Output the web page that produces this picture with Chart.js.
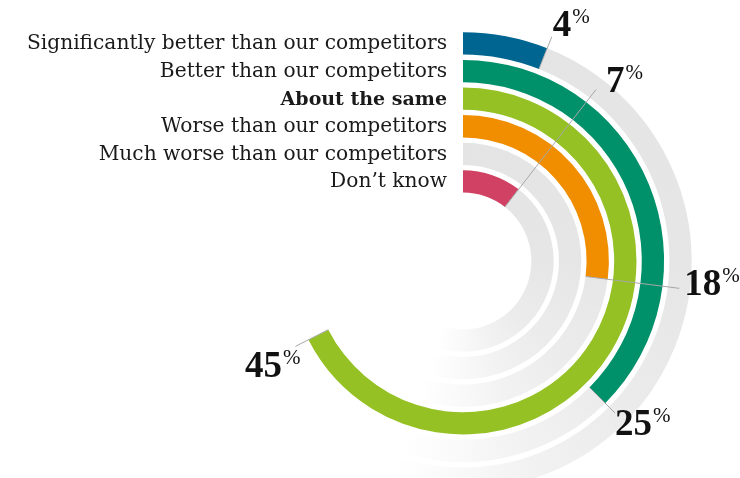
<!DOCTYPE html>
<html>
<head>
<meta charset="utf-8">
<script src="https://cdn.jsdelivr.net/npm/chart.js@4.4.1/dist/chart.umd.min.js"></script>
<style>
  html, body { margin: 0; padding: 0; background: #fff; overflow: hidden; }
  #wrap { position: relative; width: 740px; height: 478px; }
</style>
</head>
<body>
<div id="wrap"><canvas id="rings" width="740" height="478"></canvas></div>
<script>
// Answers, outermost ring first
const categories = [
  'Significantly better than our competitors',
  'Better than our competitors',
  'About the same',
  'Worse than our competitors',
  'Much worse than our competitors',
  'Don\u2019t know'
];
const values = [4, 25, 45, 18, 0, 7];
const colors = ['#006591', '#00916a', '#95c124', '#f18e00', '#e6e6e6', '#d14163'];
const boldRow = 2;

// a full track (270 degrees) stands for 50%
const SCALE_MAX = 50;
const GAP_WEIGHT = 0.238;

// leader lines: outer radius of each line, and where the figure sits from its end
const leaderOut = [241, 215, 188, 218, null, 217];
const figureOffset = [[1, -1, 'left'], [0, 22, 'left'], [5, 31, 'right'], [5, 7, 'left'], null, [10, 2, 'left']];

const LABEL_FONT = '20.2px "DejaVu Serif", serif';
const LABEL_BOLD = 'bold 19px "DejaVu Serif", serif';
const FIG_FONT = 'bold 37px "Liberation Serif", serif';
const PCT_FONT = '21px "Liberation Serif", serif';

let trackGradient = null;
let trackKey = '';
function trackFill(chart) {
  const a = chart.chartArea;
  if (!a) return '#e6e6e6';
  const cx = (a.left + a.right) / 2, cy = (a.top + a.bottom) / 2;
  const key = cx + ',' + cy;
  if (trackKey !== key) {
    // tracks fade out towards the lower left
    const g = chart.ctx.createConicGradient(-Math.PI / 2, cx, cy);
    g.addColorStop(0, '#e4e4e4');
    g.addColorStop(0.25, '#e6e6e6');
    g.addColorStop(0.38, '#ececec');
    g.addColorStop(0.45, '#f2f2f2');
    g.addColorStop(0.50, '#f9f9f9');
    g.addColorStop(0.55, '#ffffff');
    g.addColorStop(1, '#ffffff');
    trackGradient = g;
    trackKey = key;
  }
  return trackGradient;
}

// one ring per answer, with a transparent ring between them for the gap
const datasets = [];
const ringIndex = [];
categories.forEach((cat, i) => {
  ringIndex.push(datasets.length);
  datasets.push({
    label: cat,
    data: [values[i], SCALE_MAX - values[i]],
    backgroundColor: ctx => ctx.dataIndex === 0 ? colors[i] : trackFill(ctx.chart),
    borderWidth: 0,
    weight: 1,
    clip: false
  });
  if (i < categories.length - 1) {
    datasets.push({
      label: '',
      data: [1],
      backgroundColor: 'rgba(0,0,0,0)',
      borderWidth: 0,
      weight: GAP_WEIGHT,
      clip: false
    });
  }
});

const ringLabels = {
  id: 'ringLabels',
  afterDatasetsDraw(chart) {
    const ctx = chart.ctx;
    ctx.save();
    ringIndex.forEach((dsIndex, i) => {
      const arc = chart.getDatasetMeta(dsIndex).data[0];
      const p = arc.getProps(['x', 'y', 'innerRadius', 'outerRadius', 'endAngle'], true);
      const mid = (p.innerRadius + p.outerRadius) / 2;

      // answer text, right aligned just left of where the ring starts
      ctx.fillStyle = '#1a1a1a';
      ctx.textAlign = 'right';
      ctx.textBaseline = 'alphabetic';
      ctx.font = i === boldRow ? LABEL_BOLD : LABEL_FONT;
      ctx.fillText(categories[i], p.x - 16, p.y - mid + 6);

      if (!values[i]) return;

      // leader from the end of the coloured arc
      const a = p.endAngle;
      const x0 = p.x + Math.cos(a) * p.innerRadius, y0 = p.y + Math.sin(a) * p.innerRadius;
      const x1 = p.x + Math.cos(a) * leaderOut[i], y1 = p.y + Math.sin(a) * leaderOut[i];
      ctx.strokeStyle = '#a8a8a8';
      ctx.lineWidth = 1;
      ctx.beginPath();
      ctx.moveTo(x0, y0);
      ctx.lineTo(x1, y1);
      ctx.stroke();

      // figure with a small raised percent sign
      const [dx, dy, align] = figureOffset[i];
      const num = String(values[i]);
      ctx.textAlign = 'left';
      ctx.font = FIG_FONT;
      const wNum = ctx.measureText(num).width;
      ctx.font = PCT_FONT;
      const wPct = ctx.measureText('%').width;
      let left = x1 + dx;
      if (align === 'right') left -= wNum + 1 + wPct;
      const base = y1 + dy;
      ctx.fillStyle = '#111';
      ctx.font = FIG_FONT;
      ctx.fillText(num, left, base);
      ctx.font = PCT_FONT;
      ctx.fillText('%', left + wNum + 1, base - 13);
    });
    ctx.restore();
  }
};

new Chart(document.getElementById('rings'), {
  type: 'doughnut',
  data: { labels: ['share', 'rest'], datasets: datasets },
  options: {
    responsive: false,
    animation: false,
    events: [],
    rotation: 0,
    circumference: 270,
    radius: 228.7,
    cutout: '29.9%',
    layout: { padding: { left: 234.3, right: 48.3, top: 44, bottom: 0 } },
    plugins: { legend: { display: false }, tooltip: { enabled: false } }
  },
  plugins: [ringLabels]
});
</script>
</body>
</html>
